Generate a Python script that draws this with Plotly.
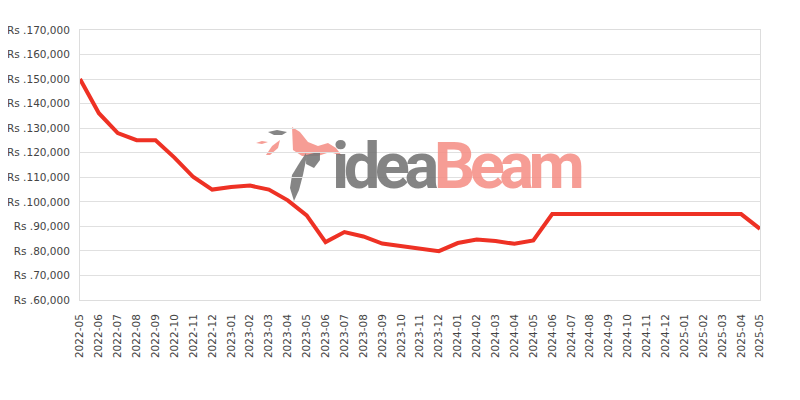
import plotly.graph_objects as go

months = ["2022-05","2022-06","2022-07","2022-08","2022-09","2022-10","2022-11","2022-12",
          "2023-01","2023-02","2023-03","2023-04","2023-05","2023-06","2023-07","2023-08",
          "2023-09","2023-10","2023-11","2023-12","2024-01","2024-02","2024-03","2024-04",
          "2024-05","2024-06","2024-07","2024-08","2024-09","2024-10","2024-11","2024-12",
          "2025-01","2025-02","2025-03","2025-04","2025-05"]
prices = [150000,136100,128000,125100,125100,118000,110100,105000,
          106000,106600,105000,100600,94500,83600,87700,85900,
          83000,82000,81100,79900,83200,84600,84000,82900,
          84300,95000,95000,95000,95000,95000,95000,95000,
          95000,95000,95000,95000,89000]
y_ticks = [60000,70000,80000,90000,100000,110000,120000,130000,140000,150000,160000,170000]
y_labels = ["Rs .{:,}".format(v) for v in y_ticks]

fig = go.Figure()
fig.add_trace(go.Scatter(x=months, y=prices, mode="lines",
                         line=dict(color="#EE3124", width=4), hoverinfo="skip"))

# watermark logo helpers (pixel -> paper)
L, R, T, B = 80, 760, 30, 300
def px(x): return (x - L) / (R - L)
def py(y): return (B - y) / (B - T)
def path(pts):
    return "M " + " L ".join(f"{px(a):.4f},{py(b):.4f}" for a, b in pts) + " Z"

shapes = []
salmon = "rgba(245,140,130,0.85)"
gray = "rgba(120,120,120,0.9)"
shapes.append(dict(type="path", path=path([(292,127),(300,132),(308,142),(318,146),(328,143),(336,148),(342,156),(330,152),(318,156),(302,156),(293,150)]), fillcolor=salmon, line=dict(width=0)))
shapes.append(dict(type="path", path=path([(306,153),(300,162),(292,175),(290,188),(294,201),(299,190),(303,175),(306,160)]), fillcolor=gray, line=dict(width=0)))
shapes.append(dict(type="path", path=path([(306,155),(314,153),(320,152),(320,160),(314,168),(306,164)]), fillcolor=gray, line=dict(width=0)))
shapes.append(dict(type="path", path=path([(268,132),(277,130),(287,132),(282,135),(274,135)]), fillcolor=gray, line=dict(width=0)))
shapes.append(dict(type="path", path=path([(256,143),(262,141),(268,142),(262,144)]), fillcolor=salmon, line=dict(width=0)))
shapes.append(dict(type="path", path=path([(266,155),(272,146),(280,140),(278,148),(270,155)]), fillcolor=salmon, line=dict(width=0)))
for s in shapes:
    s.update(xref="paper", yref="paper", layer="below")

# page body has an 8px default margin, so offsets compensate for it
fig.update_layout(
    width=800, height=400,
    margin=dict(l=72, r=48, t=22, b=108, autoexpand=False),
    paper_bgcolor="white", plot_bgcolor="white",
    showlegend=False,
    font=dict(family="DejaVu Sans, Arial, sans-serif", size=10.5, color="#444444"),
    shapes=shapes,
    annotations=[
        dict(xref="paper", yref="paper", x=px(330), y=py(166), xanchor="left", yanchor="middle",
             showarrow=False,
             text="<span style='color:rgba(110,110,110,0.85);letter-spacing:-5.5px'>idea</span>"
                  "<span style='color:rgba(245,140,130,0.85);letter-spacing:-5.5px'>Beam</span>",
             font=dict(family="Roboto, Arial, sans-serif", size=65, weight=700)),
    ],
)
fig.update_xaxes(type="category", tickangle=-90, showgrid=False, automargin=False,
                 showline=True, linecolor="#dddddd", linewidth=1, mirror=True,
                 tickfont=dict(size=10.5, color="#444444"), ticks="", ticklabelstandoff=9,
                 range=[0, len(months)-1])
fig.update_yaxes(range=[60000, 170000], tickvals=y_ticks, ticktext=y_labels, automargin=False,
                 showgrid=True, gridcolor="#e0e0e0", gridwidth=1,
                 showline=True, linecolor="#dddddd", linewidth=1, mirror=True,
                 zeroline=False, ticks="", ticklabelstandoff=7,
                 tickfont=dict(size=10.5, color="#444444"))

fig.write_html("out.html")
